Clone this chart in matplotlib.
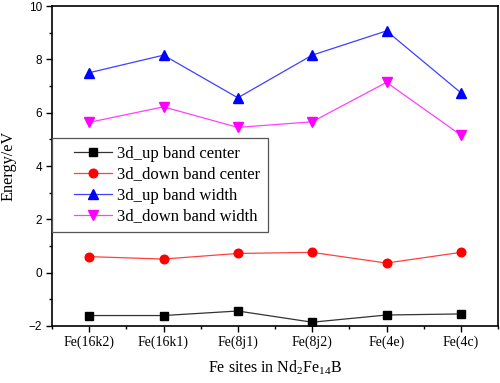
import matplotlib
matplotlib.use("Agg")
import matplotlib.pyplot as plt
from matplotlib.ticker import MultipleLocator, FixedLocator
from matplotlib.legend_handler import HandlerLine2D
from matplotlib.lines import Line2D

sites = ["Fe(16k2)", "Fe(16k1)", "Fe(8j1)", "Fe(8j2)", "Fe(4e)", "Fe(4c)"]
up_center = [-1.61, -1.61, -1.44, -1.86, -1.59, -1.55]
down_center = [0.60, 0.51, 0.72, 0.76, 0.36, 0.76]
up_width = [7.50, 8.16, 6.56, 8.16, 9.07, 6.75]
down_width = [5.64, 6.22, 5.45, 5.66, 7.14, 5.16]

serif = ["Liberation Serif", "DejaVu Serif"]
sans = ["Liberation Sans", "DejaVu Sans"]
plt.rcParams["mathtext.fontset"] = "custom"
plt.rcParams["mathtext.rm"] = "Liberation Serif"
plt.rcParams["mathtext.it"] = "Liberation Serif:italic"
plt.rcParams["mathtext.bf"] = "Liberation Serif:bold"

fig = plt.figure(figsize=(5.0, 3.83), dpi=100)
ax = fig.add_axes([0.104, 0.149, 0.892, 0.835])

x = list(range(len(sites)))
ax.plot(x, up_center, color="#333333", lw=0.9, marker="s", ms=5.2, mfc="black", mec="black", label="3d_up band center")
ax.plot(x, down_center, color="#ff4040", lw=0.9, marker="o", ms=6.2, mfc="red", mec="red", label="3d_down band center")
ax.plot(x, up_width, color="#4040ff", lw=0.9, marker="^", ms=6.5, mfc="blue", mec="blue", label="3d_up band width")
ax.plot(x, down_width, color="#ff40ff", lw=0.9, marker="v", ms=6.5, mfc="magenta", mec="magenta", label="3d_down band width")

ax.set_xlim(-0.5, 5.5)
ax.set_ylim(-2, 10)
ax.set_xticks(x)
ax.set_xticklabels(sites, fontfamily=serif, fontsize=10)
ax.xaxis.set_minor_locator(FixedLocator([i + 0.5 for i in range(-1, 6)]))
ax.yaxis.set_major_locator(MultipleLocator(2))
ax.yaxis.set_minor_locator(MultipleLocator(1))
for lab in ax.get_yticklabels():
    lab.set_fontfamily(sans)
    lab.set_fontsize(8.5)
ax.tick_params(which="major", direction="out", length=4, width=1, top=False, right=False, pad=3)
ax.tick_params(which="minor", direction="out", length=2.5, width=1, top=False, right=False)
for s in ax.spines.values():
    s.set_linewidth(1.2)

ax.set_ylabel("Energy/eV", fontfamily=serif, fontsize=11.7, labelpad=9)
ax.set_xlabel("Fe sites in Nd$_2$Fe$_{14}$B", fontfamily=serif, fontsize=11.5, labelpad=7)

leg = ax.legend(loc="upper left", bbox_to_anchor=(0.0, 0.5875), prop={"family": serif, "size": 12},
                fancybox=False, edgecolor="#555555", framealpha=1, handlelength=3.15,
                labelspacing=0.3, borderpad=0.45, handletextpad=0.3, borderaxespad=0,
                handler_map={Line2D: HandlerLine2D(xpad=0.84)})
leg.get_frame().set_linewidth(0.9)

fig.savefig("out.png", dpi=100)
